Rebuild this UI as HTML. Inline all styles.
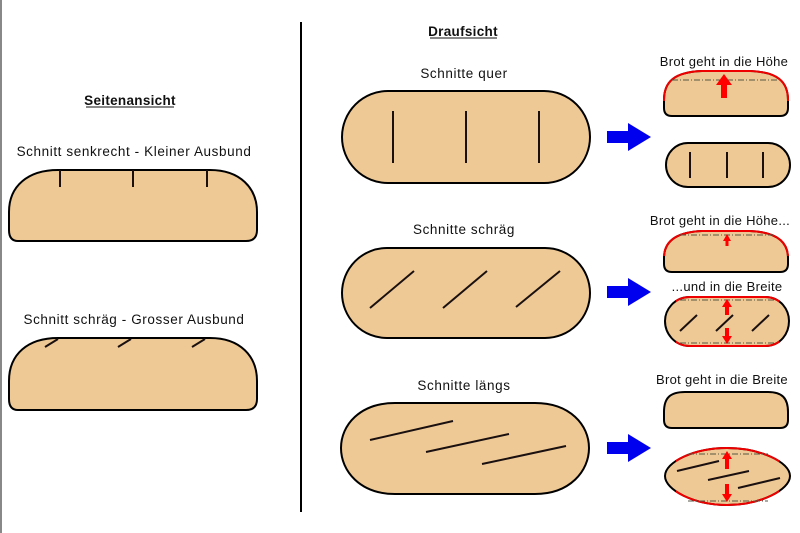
<!DOCTYPE html>
<html><head><meta charset="utf-8"><style>
html,body{margin:0;padding:0;background:#fff;}
svg{display:block;}
text{font-family:"Liberation Sans",sans-serif;font-size:13.5px;fill:#111;letter-spacing:0.6px;}
text.r{letter-spacing:0.3px;font-size:13px;}
</style></head><body>
<svg width="800" height="533" viewBox="0 0 800 533" xmlns="http://www.w3.org/2000/svg">
<defs>
<clipPath id="cA1"><rect x="600" y="0" width="200" height="101"/></clipPath>
<clipPath id="cB1"><rect x="600" y="200" width="200" height="56"/></clipPath>
<clipPath id="cX"><rect x="676" y="280" width="103" height="240"/></clipPath>
</defs>
<rect x="0" y="0" width="2" height="533" fill="#888"/>
<line x1="301" y1="22" x2="301" y2="512" stroke="#000" stroke-width="2"/>

<g fill="#EFC995" stroke="#000" stroke-width="2" stroke-linecap="round">
<path d="M18 241 Q9 241 9 230 L9 212 C9 186 28 170 58 170 L210 170 C240 170 257 188 257 212 L257 230 Q257 241 246 241 Z"/>
<path d="M18 410 Q9 410 9 399 L9 381 C9 354 28 338 58 338 L210 338 C240 338 257 356 257 381 L257 399 Q257 410 246 410 Z"/>
<rect x="342" y="91" width="248" height="92" rx="46"/>
<rect x="342" y="248" width="248" height="90" rx="45"/>
<path d="M395 403 L535 403 C570 403 589 425 589 448 C589 471 570 494 535 494 L395 494 C360 494 341 471 341 448 C341 425 360 403 395 403 Z"/>
<path id="A1" d="M672 116 Q664 116 664 108 L664 100 C664 82 674 72 702 71 L750 71 C778 72 788 82 788 100 L788 108 Q788 116 780 116 Z"/>
<rect x="666" y="143" width="124" height="44" rx="22"/>
<path id="B1" d="M672 272 Q664 272 664 264 L664 258 C664 241 677 232 702 231 L750 231 C775 232 788 241 788 258 L788 264 Q788 272 780 272 Z"/>
<path id="B2" d="M690 297 L765 297 C781 297 789 310 789 321 C789 333 781 346 765 346 L690 346 C674 346 665 333 665 321 C665 310 674 297 690 297 Z"/>
<path d="M672 428 Q664 428 664 420 L664 412 C664 398 670 392 685 392 L768 392 C782 392 788 398 788 412 L788 420 Q788 428 780 428 Z"/>
<path id="C2" d="M665 476 C665 462 694 448 727 448 C760 448 790 462 790 476 C790 490 760 505 727 505 C694 505 665 490 665 476 Z"/>
</g>

<g fill="none" stroke="#e00" stroke-width="2">
<use href="#A1" clip-path="url(#cA1)"/>
<use href="#B1" clip-path="url(#cB1)"/>
<use href="#B2" clip-path="url(#cX)"/>
<use href="#C2" clip-path="url(#cX)"/>
</g>
<g stroke="#554" stroke-width="1" stroke-dasharray="6,2,1,2">
<line x1="672" y1="80" x2="782" y2="80"/>
<line x1="680" y1="235" x2="775" y2="235"/>
<line x1="680" y1="300" x2="775" y2="300"/>
<line x1="680" y1="343" x2="775" y2="343"/>
<line x1="688" y1="454" x2="768" y2="454"/>
<line x1="688" y1="501" x2="768" y2="501"/>
</g>
<g fill="#f00">
<rect x="721" y="84" width="6" height="14"/><polygon points="716,85 724,74 732,85"/>
<rect x="725.5" y="240" width="3" height="6"/><polygon points="723,241 727,234 731,241"/>
<rect x="725" y="306" width="4" height="9"/><polygon points="722,307 727,299 732,307"/>
<rect x="725" y="328" width="4" height="9"/><polygon points="722,336 727,344 732,336"/>
<rect x="725" y="458" width="4" height="11"/><polygon points="722,459 727,451 732,459"/>
<rect x="725" y="484" width="4" height="11"/><polygon points="722,494 727,502 732,494"/>
</g>

<g stroke="#1a1010" stroke-width="2" stroke-linecap="butt">
<line x1="60" y1="170" x2="60" y2="187"/><line x1="133" y1="170" x2="133" y2="187"/><line x1="207" y1="170" x2="207" y2="187"/>
<line x1="45" y1="347" x2="58" y2="339"/><line x1="118" y1="347" x2="131" y2="339"/><line x1="192" y1="347" x2="205" y2="339"/>
<line x1="393" y1="111" x2="393" y2="163"/><line x1="466" y1="111" x2="466" y2="163"/><line x1="539" y1="111" x2="539" y2="163"/>
<line x1="370" y1="308" x2="414" y2="271"/><line x1="443" y1="308" x2="487" y2="271"/><line x1="516" y1="307" x2="560" y2="271"/>
<line x1="370" y1="440" x2="453" y2="421"/><line x1="426" y1="452" x2="509" y2="434"/><line x1="482" y1="464" x2="566" y2="446"/>
<line x1="690" y1="152" x2="690" y2="178"/><line x1="727" y1="152" x2="727" y2="178"/><line x1="763" y1="152" x2="763" y2="178"/>
<line x1="680" y1="331" x2="697" y2="315"/><line x1="716" y1="331" x2="733" y2="315"/><line x1="752" y1="331" x2="769" y2="315"/>
<line x1="677" y1="471" x2="719" y2="461"/><line x1="708" y1="480" x2="749" y2="471"/><line x1="738" y1="488" x2="780" y2="478"/>
</g>

<g fill="#0000ee">
<polygon points="607,131 628,131 628,123 651,137 628,151 628,143 607,143"/>
<polygon points="607,286 628,286 628,278 651,292 628,306 628,298 607,298"/>
<polygon points="607,442 628,442 628,434 651,448 628,462 628,454 607,454"/>
</g>

<text x="130" y="105" text-anchor="middle" style="font-weight:bold;letter-spacing:0.3px">Seitenansicht</text>
<line x1="86" y1="107" x2="174" y2="107" stroke="#111" stroke-width="1"/>
<text x="134" y="156" text-anchor="middle">Schnitt senkrecht - Kleiner Ausbund</text>
<text x="134" y="324" text-anchor="middle">Schnitt schräg - Grosser Ausbund</text>
<text x="463" y="36" text-anchor="middle" style="font-weight:bold;letter-spacing:0.3px">Draufsicht</text>
<line x1="430" y1="38" x2="497" y2="38" stroke="#111" stroke-width="1"/>
<text x="464" y="78" text-anchor="middle">Schnitte quer</text>
<text x="464" y="234" text-anchor="middle">Schnitte schräg</text>
<text x="464" y="390" text-anchor="middle">Schnitte längs</text>
<text class="r" x="724" y="66" text-anchor="middle">Brot geht in die Höhe</text>
<text class="r" x="720" y="225" text-anchor="middle">Brot geht in die Höhe...</text>
<text class="r" x="727" y="291" text-anchor="middle">...und in die Breite</text>
<text class="r" x="722" y="384" text-anchor="middle">Brot geht in die Breite</text>
</svg>
</body></html>
